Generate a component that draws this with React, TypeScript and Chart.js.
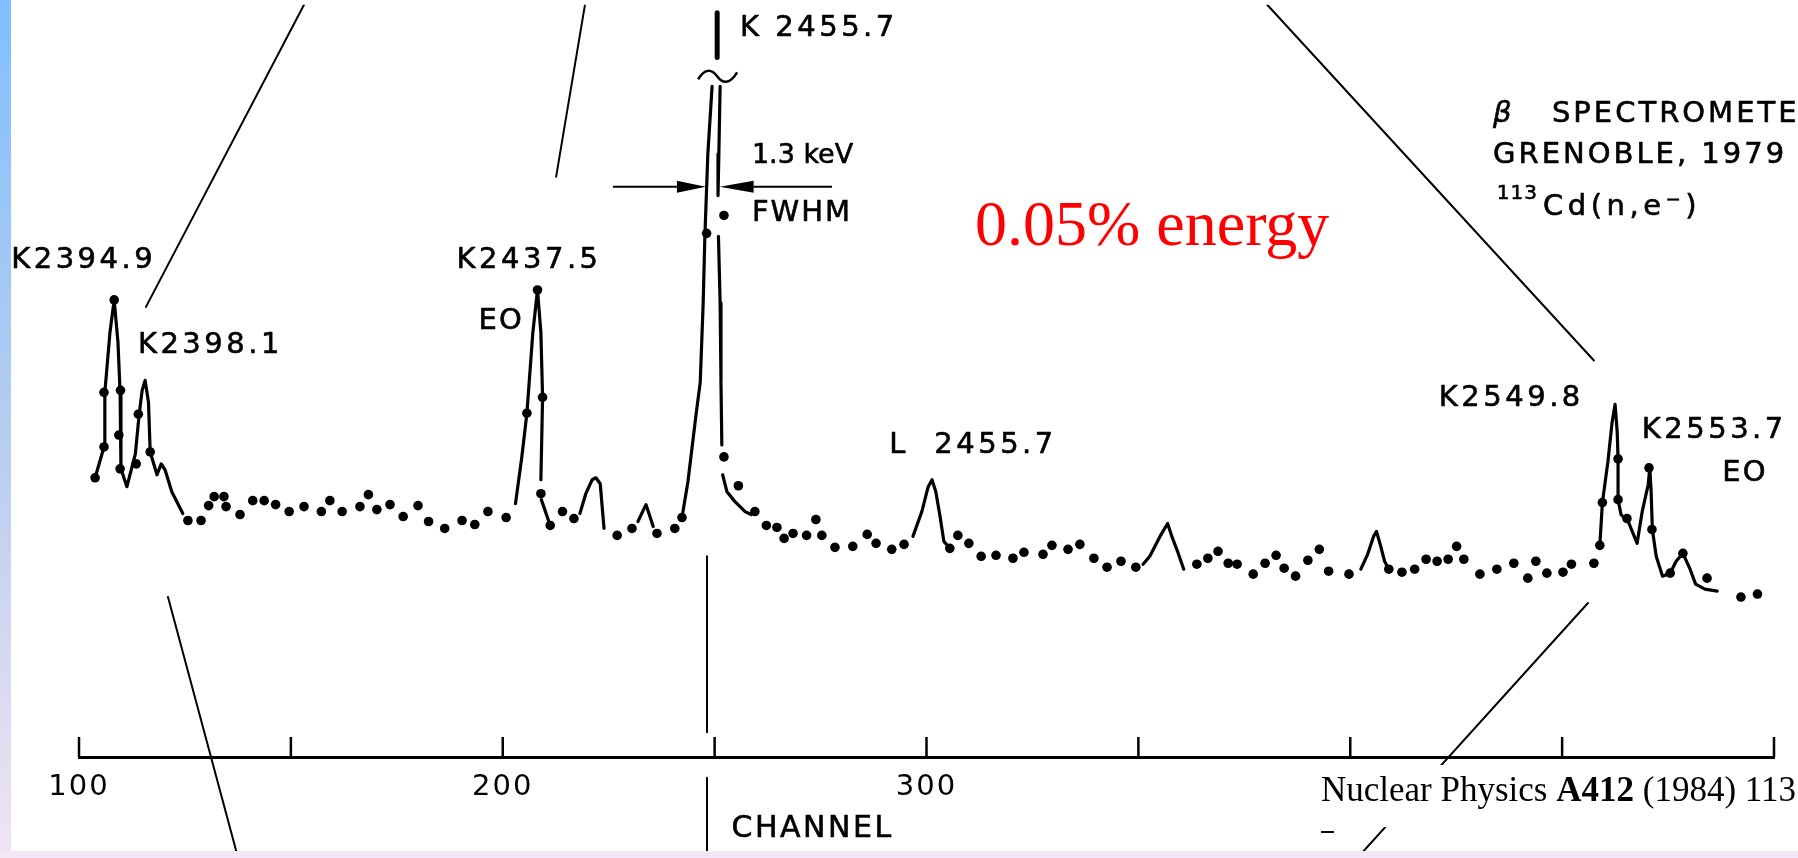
import React, { useEffect, useRef } from "react";
import { Chart, registerables } from "chart.js";

Chart.register(...registerables);

// ---- measured electron spectrum (channel, relative counts) ----
const dotChannels = [
  103.8, 105.9, 105.9, 108.3, 109.8, 109.4, 109.7, 113.5, 114.0, 116.8,
  125.7, 128.8, 130.6, 131.9, 134.2, 134.7, 138.0, 141.0, 143.7, 146.4,
  149.6, 153.1, 157.2, 159.2, 162.1, 166.3, 168.3, 170.3, 173.4, 176.5,
  180.0, 182.5, 186.3, 190.4, 193.4, 196.5, 200.8, 205.7, 208.2, 209.4,
  209.0, 211.2, 214.1, 216.8, 227.0, 230.5, 236.4, 240.6, 242.3, 248.1,
  252.2, 252.2, 255.6, 259.5, 262.2, 264.7, 266.4, 268.5, 271.7, 273.9,
  275.3, 278.4, 282.6, 286.0, 288.1, 291.8, 294.7, 305.5, 307.4, 310.0,
  312.9, 316.4, 320.4, 323.0, 327.5, 329.6, 333.4, 336.2, 339.5, 342.6,
  345.9, 349.4, 363.8, 366.4, 368.8, 371.2, 373.3, 377.1, 379.9, 382.5,
  384.4, 387.1, 390.0, 392.7, 394.9, 399.7, 409.1, 412.2, 415.2, 417.9,
  420.5, 423.1, 425.1, 426.8, 430.6, 434.6, 438.6, 441.9, 443.8, 446.4,
  450.2, 452.2, 457.5, 458.9, 459.5, 463.2, 463.2, 465.3, 470.5, 471.2,
  475.5, 478.5, 484.2, 492.2, 496.1,
];
const dotCounts = [
  281, 312, 367, 460, 369, 324, 290, 295, 345, 307,
  238, 238, 253, 262, 262, 252, 244, 258, 258, 254,
  247, 252, 247, 258, 247, 252, 264, 249, 254, 242,
  253, 237, 230, 238, 234, 247, 241, 346, 470, 362,
  265, 233, 247, 240, 223, 230, 225, 230, 241, 527,
  545, 302, 273, 247, 233, 231, 220, 225, 223, 239,
  223, 211, 212, 224, 215, 209, 214, 210, 223, 215,
  202, 203, 200, 206, 204, 213, 209, 214, 200, 191,
  197, 191, 194, 200, 207, 195, 194, 184, 195, 203,
  190, 182, 198, 209, 187, 184, 189, 186, 189, 199,
  197, 199, 212, 199, 184, 189, 195, 180, 197, 185,
  186, 194, 195, 213, 256, 300, 259, 240, 291, 229,
  185, 205, 180, 161, 164,
];

// ---- hand-drawn fit curves through the lines ----
const fitK2394: [number, number][] = [
  [103.8, 281], [105.9, 312], [106.1, 367], [107.3, 427], [108.3, 460], [109.2, 417],
  [109.7, 367], [109.9, 290], [111.3, 272], [113.3, 305], [114.2, 345], [114.9, 369],
  [115.6, 379], [116.4, 357], [116.8, 307], [118.4, 284], [119.4, 295], [120.3, 289],
  [121.9, 267], [124.5, 245],
];
const fitK2437: [number, number][] = [
  [203.0, 255], [204.5, 302], [205.7, 346], [207.1, 427], [208.2, 470], [209.0, 427],
  [209.4, 362], [209.0, 279],
];
const fitK2437Tail: [number, number][] = [[209.1, 259], [211.2, 233]];
const fitPeak221: [number, number][] = [
  [218.2, 245], [219.6, 265], [221.1, 279], [222.0, 281], [223.0, 275], [223.9, 230],
];
const fitPeak234: [number, number][] = [[231.9, 237], [233.8, 254], [235.5, 232]];
const fitK2455Left: [number, number][] = [
  [242.3, 241], [243.7, 277], [245.6, 344], [246.6, 377], [247.3, 457], [247.7, 524],
  [248.4, 607], [249.4, 675],
];
const fitK2455RightTop: [number, number][] = [[251.3, 675], [251.0, 607], [250.8, 565]];
const fitK2455RightMid: [number, number][] = [[250.9, 524], [251.3, 457], [251.5, 377], [251.7, 314]];
const fitK2455Tail: [number, number][] = [
  [251.9, 284], [252.9, 267], [254.8, 257], [257.2, 247], [258.6, 244],
];
const fitK2455Top: [number, number][] = [[250.6, 704], [250.6, 749]];
const fitL2455: [number, number][] = [
  [296.8, 222], [298.9, 247], [300.4, 272], [301.3, 279], [302.2, 267], [303.2, 242],
  [304.1, 217], [305.5, 210],
];
const fitPeak357: [number, number][] = [
  [351.1, 194], [352.7, 202], [355.1, 222], [356.9, 235], [357.9, 222], [359.4, 205], [360.7, 189],
];
const fitPeak406: [number, number][] = [
  [402.5, 189], [404.1, 204], [405.5, 222], [406.2, 227], [407.2, 212], [408.1, 197], [409.1, 189],
];
const fitK2549: [number, number][] = [
  [458.9, 213], [459.5, 256], [460.8, 297], [461.8, 337], [462.5, 355], [463.0, 327],
  [463.2, 300], [463.2, 259], [463.9, 244], [465.6, 237], [467.7, 215], [468.9, 247],
  [470.3, 274], [470.7, 291], [471.0, 267], [471.3, 229], [472.2, 202], [473.7, 182],
  [475.5, 185], [476.9, 197], [478.5, 205], [480.2, 189], [481.5, 174], [483.7, 169],
  [486.6, 167],
];

// ---- guide lines of the original figure (channel, counts) ----
const guideA: [number, number][] = [[153.1, 757], [115.8, 453]];
const guideB: [number, number][] = [[219.4, 757], [212.6, 584]];
const guideC: [number, number][] = [[380.4, 757], [457.5, 399]];
const guideD: [number, number][] = [[121.0, 161], [137.5, -101]];
const guideE: [number, number][] = [[456.1, 155], [401.8, -101]];
const guideMarkUpper: [number, number][] = [[248.2, 202], [248.2, 25]];
const guideMarkLower: [number, number][] = [[248.2, -21], [248.2, -101]];

// ---- axis ----
const xMin = 100;
const xMax = 500;
const xStep = 50;
const labeledChannels = [100, 200, 300];
const axisTitle = "CHANNEL";

// ---- annotations ----
const peakLabels = ["K2394.9", "K2398.1", "K2437.5", "EO", "K 2455.7", "FWHM", "L  2455.7", "K2549.8", "K2553.7", "EO"];
const peakLabelChannels = [84.0, 113.9, 189.1, 194.3, 256.0, 258.8, 291.2, 420.9, 468.8, 487.8];
const peakLabelCounts = [500, 414, 500, 438, 733, 547, 314, 361, 329, 285];
const fwhmText = "1.3 keV";
const fwhmCounts = 574;
const fwhmLeftChannels = [226.0, 241.1, 247.9];
const fwhmRightChannels = [251.2, 259.2, 277.7];
const breakChannel = 250.6;
const breakCounts = 685;
const infoLines = ["β", "SPECTROMETER", "GRENOBLE, 1979", "113", "Cd(n,e⁻)"];
const infoChannels = [433.7, 447.6, 433.7, 434.6, 445.5];
const infoCounts = [647, 647, 605, 567, 553];
const redNote = "0.05% energy";
const citeParts = ["Nuclear Physics ", "A412", " (1984) 113"];

const W = 1798;
const H = 858;
const LBL = "DejaVu Sans";

function pts(arr: [number, number][]) {
  return arr.map(([x, y]) => ({ x, y }));
}

function drawText(
  ctx: CanvasRenderingContext2D,
  s: string,
  x: number,
  y: number,
  font: string,
  spacing = 0,
  color = "#000",
  align: CanvasTextAlign = "left",
  baseline: CanvasTextBaseline = "middle",
  thicken = 0
) {
  ctx.save();
  ctx.font = font;
  ctx.fillStyle = color;
  ctx.textAlign = align;
  ctx.textBaseline = baseline;
  (ctx as any).letterSpacing = spacing + "px";
  ctx.fillText(s, x, y);
  if (thicken > 0) {
    ctx.strokeStyle = color;
    ctx.lineWidth = thicken;
    ctx.lineJoin = "round";
    ctx.strokeText(s, x, y);
  }
  const w = ctx.measureText(s).width;
  ctx.restore();
  return w;
}

export default function App() {
  const ref = useRef<HTMLCanvasElement>(null);

  useEffect(() => {
    const canvas = ref.current!;
    const lineDs = (arr: [number, number][], width: number, noClip = false) => {
      const ds: any = {
        data: pts(arr),
        showLine: true,
        borderColor: "#000",
        borderWidth: width,
        pointRadius: 0,
        tension: 0,
        fill: false,
        borderCapStyle: "round",
        borderJoinStyle: "round",
      };
      if (noClip) ds.clip = false;
      return ds;
    };

    const decor = {
      id: "decor",
      beforeDraw(chart: any) {
        const ctx = chart.ctx as CanvasRenderingContext2D;
        ctx.save();
        ctx.fillStyle = "#fff";
        ctx.fillRect(0, 0, W, H);
        const g = ctx.createLinearGradient(0, 0, 0, H);
        g.addColorStop(0, "#80bfff");
        g.addColorStop(0.5, "#b6cdee");
        g.addColorStop(1, "#f1e3f5");
        ctx.fillStyle = g;
        ctx.fillRect(0, 0, 11, H);
        ctx.restore();
        (ctx as any).letterSpacing = "2px";
      },
      beforeDatasetsDraw(chart: any) {
        const ctx = chart.ctx as CanvasRenderingContext2D;
        (ctx as any).letterSpacing = "0px";
        const xs = chart.scales.x;
        const bottom = chart.chartArea.bottom;
        ctx.save();
        ctx.strokeStyle = "#000";
        ctx.lineWidth = 2.5;
        for (const t of xs.ticks) {
          const px = xs.getPixelForValue(t.value);
          ctx.beginPath();
          ctx.moveTo(px, bottom);
          ctx.lineTo(px, bottom - 20);
          ctx.stroke();
        }
        ctx.restore();
      },
      afterDatasetsDraw(chart: any) {
        const ctx = chart.ctx as CanvasRenderingContext2D;
        const xs = chart.scales.x;
        const ys = chart.scales.y;
        const px = (v: number) => xs.getPixelForValue(v);
        const py = (v: number) => ys.getPixelForValue(v);

        // axis title
        drawText(ctx, axisTitle, px(254.0), py(-73), `30px "${LBL}"`, 2.5, "#000", "left", "middle", 0.6);

        // break mark on the tall peak
        ctx.save();
        ctx.strokeStyle = "#000";
        ctx.lineWidth = 2.5;
        const bx = px(breakChannel);
        const by = py(breakCounts);
        ctx.beginPath();
        ctx.moveTo(bx - 19, by + 3);
        ctx.bezierCurveTo(bx - 12, by - 9, bx - 5, by - 7, bx, by);
        ctx.bezierCurveTo(bx + 5, by + 7, bx + 12, by + 9, bx + 20, by - 4);
        ctx.stroke();
        ctx.restore();

        // FWHM arrows
        ctx.save();
        ctx.strokeStyle = "#000";
        ctx.fillStyle = "#000";
        ctx.lineWidth = 2;
        const fy = py(fwhmCounts);
        const [l0, l1, l2] = fwhmLeftChannels.map(px);
        const [r0, r1, r2] = fwhmRightChannels.map(px);
        ctx.beginPath();
        ctx.moveTo(l0, fy);
        ctx.lineTo(l1, fy);
        ctx.moveTo(r1, fy);
        ctx.lineTo(r2, fy);
        ctx.stroke();
        ctx.beginPath();
        ctx.moveTo(l1, fy - 6);
        ctx.lineTo(l2, fy);
        ctx.lineTo(l1, fy + 6);
        ctx.closePath();
        ctx.fill();
        ctx.beginPath();
        ctx.moveTo(r1, fy - 6);
        ctx.lineTo(r0, fy);
        ctx.lineTo(r1, fy + 6);
        ctx.closePath();
        ctx.fill();
        ctx.restore();
        drawText(ctx, fwhmText, px(258.8), py(605), `27px "${LBL}"`, 0, "#000", "left", "middle", 0.6);

        // peak labels
        peakLabels.forEach((s, i) => {
          drawText(
            ctx,
            s,
            px(peakLabelChannels[i]),
            py(peakLabelCounts[i]),
            `29px "${LBL}"`,
            s === "FWHM" || s === "EO" ? 2 : 3.5,
            "#000",
            "left",
            "middle",
            0.6
          );
        });

        // experiment info
        infoLines.forEach((s, i) => {
          const sup = s === "113";
          drawText(
            ctx,
            s,
            px(infoChannels[i]),
            py(infoCounts[i]),
            sup ? `20px "${LBL}"` : s === "β" ? `italic 29px "${LBL}"` : `29px "${LBL}"`,
            sup ? 1 : s.startsWith("Cd") ? 4.5 : 3,
            "#000",
            "left",
            "middle",
            0.6
          );
        });

        // slide overlays
        drawText(ctx, redNote, 975, 245, `64px "Liberation Serif"`, 0, "#ff0000", "left", "alphabetic");

        ctx.save();
        ctx.fillStyle = "#fff";
        ctx.fillRect(1310, 765, W - 1310, 62);
        ctx.restore();
        let cx = 1321;
        citeParts.forEach((s, i) => {
          cx += drawText(ctx, s, cx, 801, `${i === 1 ? "bold " : ""}35px "Liberation Serif"`, 0, "#000", "left", "alphabetic");
        });
        ctx.save();
        ctx.strokeStyle = "#000";
        ctx.lineWidth = 2;
        ctx.beginPath();
        ctx.moveTo(1321, 832);
        ctx.lineTo(1334, 832);
        ctx.stroke();
        ctx.restore();
      },
      afterDraw(chart: any) {
        const ctx = chart.ctx as CanvasRenderingContext2D;
        ctx.save();
        ctx.fillStyle = "#f3e6f6";
        ctx.fillRect(0, 851, W, H - 851);
        ctx.restore();
      },
    };

    const chart = new Chart(canvas, {
      type: "scatter",
      data: {
        datasets: [
          {
            data: dotChannels.map((c, i) => ({ x: c, y: dotCounts[i] })),
            pointRadius: 4.8,
            pointBackgroundColor: "#000",
            pointBorderWidth: 0,
            showLine: false,
          } as any,
          lineDs(fitK2394, 3.2),
          lineDs(fitK2437, 3.2),
          lineDs(fitK2437Tail, 3.2),
          lineDs(fitPeak221, 3.2),
          lineDs(fitPeak234, 3.2),
          lineDs(fitK2455Left, 3.2),
          lineDs(fitK2455RightTop, 3.2),
          lineDs(fitK2455RightMid, 3.2),
          lineDs(fitK2455Tail, 3.2),
          lineDs(fitK2455Top, 5),
          lineDs(fitL2455, 3.2),
          lineDs(fitPeak357, 3.2),
          lineDs(fitPeak406, 3.2),
          lineDs(fitK2549, 3.2),
          lineDs(guideA, 2),
          lineDs(guideB, 2),
          lineDs(guideC, 2),
          lineDs(guideD, 2, true),
          lineDs(guideE, 2, true),
          lineDs(guideMarkUpper, 2, true),
          lineDs(guideMarkLower, 2, true),
        ],
      },
      options: {
        responsive: false,
        animation: false,
        events: [],
        layout: { padding: { left: 79, right: 24, top: 0, bottom: 0 } },
        plugins: { legend: { display: false }, tooltip: { enabled: false } },
        scales: {
          x: {
            type: "linear",
            min: xMin,
            max: xMax,
            afterFit: (s: any) => {
              s.height = 101;
            },
            border: { display: true, color: "#000", width: 3 },
            grid: { display: false, drawTicks: false },
            ticks: {
              stepSize: xStep,
              autoSkip: false,
              maxRotation: 0,
              padding: 13,
              color: "#000",
              font: { family: LBL, size: 29 },
              callback: (v: any) => (labeledChannels.includes(Number(v)) ? String(v) : ""),
            },
          },
          y: { display: false, min: 0, max: 757 },
        },
      } as any,
      plugins: [decor],
    });
    return () => chart.destroy();
  }, []);

  return (
    <div style={{ position: "fixed", left: 0, top: 0, width: W, height: H, background: "#fff", overflow: "hidden" }}>
      <canvas ref={ref} width={W} height={H} style={{ display: "block" }} />
    </div>
  );
}
